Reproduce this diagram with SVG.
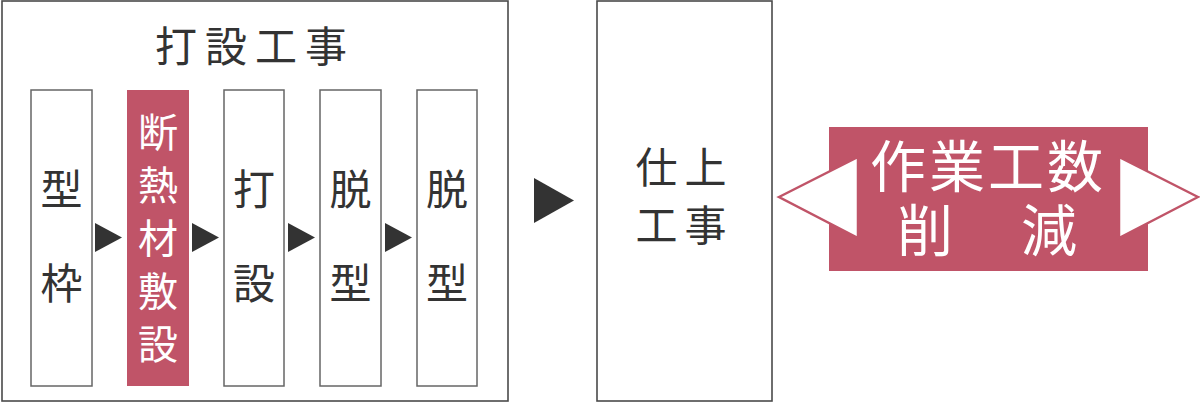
<svg xmlns="http://www.w3.org/2000/svg" width="1200" height="402" viewBox="0 0 1200 402">
<style>
.frame{fill:#fff;stroke:#4a4a4a;stroke-width:1.6}
.box{fill:#fff;stroke:#666;stroke-width:1.5}
.pink{fill:#c05468}
.t{font-family:"Noto Sans CJK JP","Noto Sans CJK SC",sans-serif;fill:#333;text-anchor:middle}
.w{fill:#fff}
.tri{fill:#333}
.side{fill:#fff;stroke:#c05468;stroke-width:2.5;stroke-linejoin:miter}
</style>
<rect width="1200" height="402" fill="#fff"/>
<g id="group-dasetsu">
<rect class="frame" x="2" y="1" width="506" height="400"/>
<text class="t" x="255" y="62" font-size="42" letter-spacing="8">打設工事</text>
</g>
<g id="node-katawaku">
<rect class="box" x="31" y="90" width="61" height="296"/>
<text class="t" x="61.5" y="205" font-size="42">型</text>
<text class="t" x="61.5" y="299" font-size="42">枠</text>
</g>
<g id="node-dannetsu">
<rect class="pink" x="127" y="90" width="62" height="296"/>
<text class="t w" x="158" y="147" font-size="40">断</text>
<text class="t w" x="158" y="200" font-size="40">熱</text>
<text class="t w" x="158" y="253" font-size="40">材</text>
<text class="t w" x="158" y="306" font-size="40">敷</text>
<text class="t w" x="158" y="359" font-size="40">設</text>
</g>
<g id="node-dasetsu">
<rect class="box" x="224" y="90" width="60" height="296"/>
<text class="t" x="254" y="205" font-size="42">打</text>
<text class="t" x="254" y="299" font-size="42">設</text>
</g>
<g id="node-datsukei1">
<rect class="box" x="320" y="90" width="61" height="296"/>
<text class="t" x="350.5" y="205" font-size="42">脱</text>
<text class="t" x="350.5" y="299" font-size="42">型</text>
</g>
<g id="node-datsukei2">
<rect class="box" x="417" y="90" width="60" height="296"/>
<text class="t" x="447" y="205" font-size="42">脱</text>
<text class="t" x="447" y="299" font-size="42">型</text>
</g>
<g id="node-shiage">
<rect class="frame" x="597" y="1" width="175" height="400"/>
<text class="t" font-size="42" letter-spacing="7"><tspan x="684.5" y="183">仕上</tspan><tspan x="684.5" y="241">工事</tspan></text>
</g>
<g id="node-sakugen">
<rect class="pink" x="829" y="127" width="319" height="144"/>
<polygon class="side" points="779,197 858,157 858,238"/>
<polygon class="side" points="1198,197 1119,157 1119,238"/>
<text class="t w" font-size="56"><tspan x="988" y="187" letter-spacing="3">作業工数</tspan><tspan x="990" y="251" letter-spacing="6">削　減</tspan></text>
</g>
<g id="connectors">
<polygon class="tri" points="95,223 122,237.5 95,252"/>
<polygon class="tri" points="192,223 219,237.5 192,252"/>
<polygon class="tri" points="288,223 315,237.5 288,252"/>
<polygon class="tri" points="385,223 412,237.5 385,252"/>
<polygon class="tri" points="534,178 574,200.5 534,223"/>
</g>
</svg>
